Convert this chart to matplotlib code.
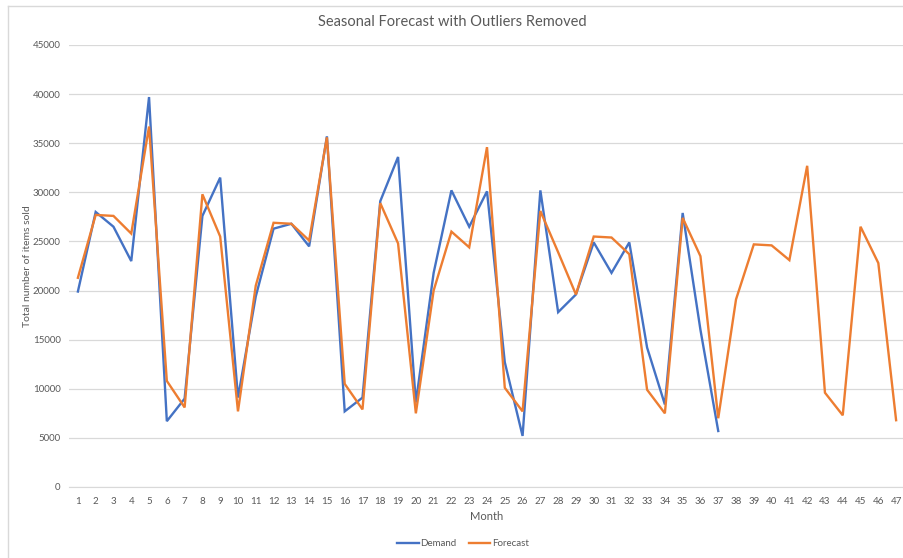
import matplotlib
matplotlib.use("Agg")
import matplotlib.pyplot as plt
from matplotlib.lines import Line2D

months = list(range(1, 48))

demand = [
    19900, 28000, 26500, 23000, 39700, 6700, 9000, 27600, 31500, 9100,
    19400, 26300, 26800, 24500, 35700, 7700, 9100, 29100, 33600, 8600,
    21800, 30200, 26500, 30100, 12700, 5200, 30200, 17800, 19600, 24900,
    21800, 24900, 14200, 8400, 27900, 16000, 5700,
]
forecast = [
    21300, 27700, 27600, 25800, 36700, 10800, 8100, 29800, 25500, 7700,
    20500, 26900, 26800, 25100, 35600, 10500, 7900, 28900, 24800, 7500,
    20000, 26000, 24400, 34600, 10100, 7700, 28100, 23900, 19600, 25500,
    25400, 23700, 9900, 7500, 27400, 23500, 7000, 19100, 24700, 24600,
    23100, 32700, 9600, 7300, 26500, 22800, 6800,
]

y_ticks = list(range(0, 45001, 5000))

TEXT = "#595959"
GRID = "#D9D9D9"
BLUE = "#4472C4"
ORANGE = "#ED7D31"

W, H = 904, 558

plt.rcParams["font.family"] = ["Lato", "DejaVu Sans"]

fig = plt.figure(figsize=(W / 100, H / 100), dpi=100)
ax = fig.add_axes([69 / W, 1 - 487 / H, (905 - 69) / W, (487 - 45) / H])

# chart frame (left and top edges fall inside the canvas)
fig.add_artist(Line2D([7.5 / W, 7.5 / W], [0, 1 - 5.5 / H],
                      transform=fig.transFigure, color=GRID, lw=1))
fig.add_artist(Line2D([7.5 / W, 1], [1 - 5.5 / H, 1 - 5.5 / H],
                      transform=fig.transFigure, color=GRID, lw=1))

ax.plot(months[:len(demand)], demand, color=BLUE, lw=1.7, label="Demand",
        solid_joinstyle="miter")
ax.plot(months, forecast, color=ORANGE, lw=1.7, label="Forecast",
        solid_joinstyle="miter")

ax.set_xlim(0.5, 47.5)
ax.set_ylim(0, 45000)
ax.set_yticks(y_ticks)
ax.set_yticklabels([str(v) for v in y_ticks])
ax.set_xticks(months)
ax.set_xticklabels([str(m) for m in months])

ax.grid(axis="y", color=GRID, lw=0.9)
ax.set_axisbelow(True)
for side in ("top", "right", "left"):
    ax.spines[side].set_visible(False)
ax.spines["bottom"].set_color(GRID)
ax.tick_params(axis="both", length=0, labelsize=7, colors=TEXT)
ax.tick_params(axis="y", pad=6)
ax.tick_params(axis="x", pad=7)

ax.set_xlabel("Month", fontsize=8, color=TEXT, labelpad=4)

fig.text(28 / W, 1 - 266 / H, "Total number of items sold", rotation=90,
         ha="center", va="center", fontsize=7.5, color=TEXT)
fig.text(0.5, 1 - 22 / H, "Seasonal Forecast with Outliers Removed",
         ha="center", va="center", fontsize=10.5, color=TEXT)

fig.legend(loc="center", bbox_to_anchor=(463 / W, 1 - 544 / H), ncol=2,
           frameon=False, fontsize=7, labelcolor=TEXT, handlelength=2.2,
           handletextpad=0.2, columnspacing=1.2)

fig.savefig("out.png", dpi=100)
